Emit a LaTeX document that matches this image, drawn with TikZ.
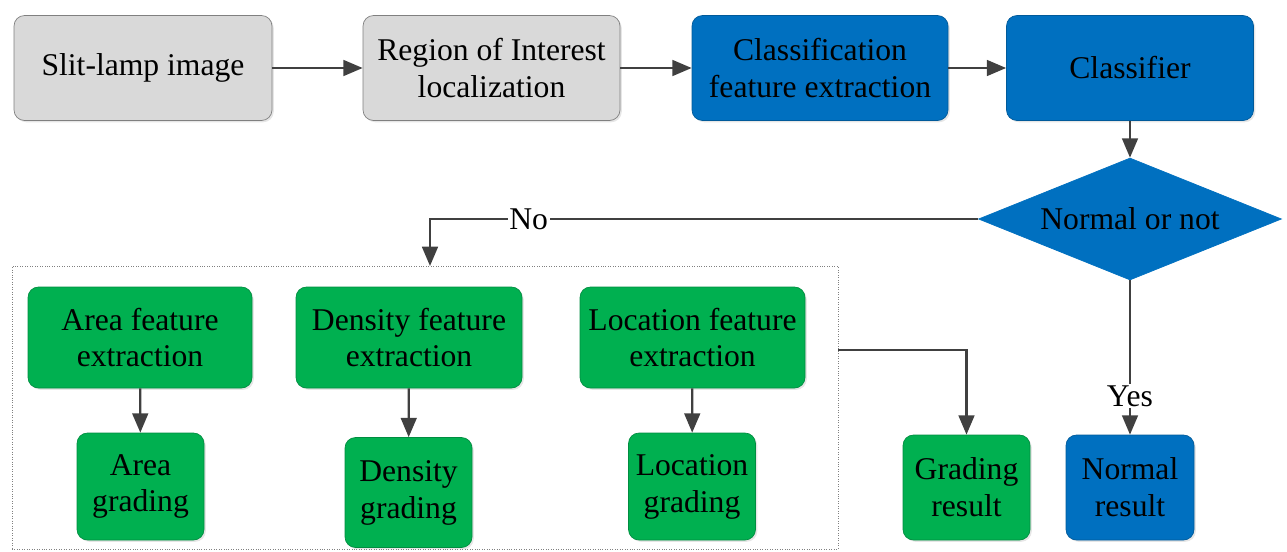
\documentclass[tikz,border=0pt]{standalone}
\usepackage{fontspec}
\setmainfont{LiberationSerif}[Extension=.ttf, UprightFont=*-Regular, BoldFont=*-Bold, ItalicFont=*-Italic]
\usepackage{tikz}
\usetikzlibrary{positioning,arrows.meta,shapes.geometric,shadows}

\definecolor{cgrey}{RGB}{217,217,217}
\definecolor{cblue}{RGB}{0,112,192}
\definecolor{cgreen}{RGB}{0,176,80}
\definecolor{cline}{RGB}{64,64,64}

\begin{document}
\begin{tikzpicture}[
    box/.style = {draw, rounded corners=6pt, align=center, minimum height=2.1cm, font=\fontsize{18}{21}\selectfont, drop shadow={opacity=0.2, shadow xshift=1pt, shadow yshift=-1pt}},
    gbox/.style = {box, fill=cgrey, draw=gray},
    bbox/.style = {box, fill=cblue, draw=cblue!80!black},
    fbox/.style = {box, fill=cgreen, draw=cgreen!80!black},
    dec/.style = {diamond, draw=cblue, fill=cblue, aspect=2.48, inner sep=0pt, minimum width=6.06cm, minimum height=2.44cm, font=\fontsize{18}{21}\selectfont},
    frame/.style = {draw=gray, densely dotted, thin},
    lbl/.style = {fill=white, inner sep=1pt, font=\fontsize{18}{21}\selectfont},
    > = {Triangle[length=11pt, width=9pt]}
]
\useasboundingbox (0,0) rectangle (25.74,-11.02);

\node (img) [gbox, minimum width=5.16cm] at (2.86,-1.36) {Slit-lamp image};
\node (roi) [gbox, minimum width=5.14cm] at (9.83,-1.36) {Region of Interest\\localization};
\node (cfe) [bbox, minimum width=5.12cm] at (16.4,-1.36) {Classification\\feature extraction};
\node (clf) [bbox, minimum width=4.94cm] at (22.6,-1.36) {Classifier};
\node (nrm) [dec] at (22.6,-4.38) {Normal or not};

\node (grp) [frame, minimum width=16.52cm, minimum height=5.66cm] at (8.5,-8.15) {};

\node (afe) [fbox, minimum width=4.48cm, minimum height=2.02cm] at (2.8,-6.75) {Area feature\\extraction};
\node (dfe) [fbox, minimum width=4.52cm, minimum height=2.02cm] at (8.18,-6.75) {Density feature\\extraction};
\node (lfe) [fbox, minimum width=4.5cm, minimum height=2.02cm] at (13.85,-6.75) {Location feature\\extraction};

\node (agr) [fbox, minimum width=2.54cm, minimum height=2.14cm] at (2.81,-9.73) {Area\\grading};
\node (dgr) [fbox, minimum width=2.54cm, minimum height=2.2cm] at (8.17,-9.85) {Density\\grading};
\node (lgr) [fbox, minimum width=2.54cm, minimum height=2.14cm] at (13.84,-9.73) {Location\\grading};

\node (gres) [fbox, minimum width=2.54cm] at (19.33,-9.75) {Grading\\result};
\node (nres) [bbox, minimum width=2.56cm] at (22.6,-9.75) {Normal\\result};

\coordinate (nx) at (8.6,-5.32);
\coordinate (gy) at (16.76,-7.0);

\begin{scope}[draw=cline, line width=1.3pt]
\draw[->] (img) to (roi);
\draw[->] (roi) to (cfe);
\draw[->] (cfe) to (clf);
\draw[->] (clf) to (nrm);
\draw[->] (nrm.west) -| node[lbl, pos=0.41] {No} (nx);
\draw[->] (nrm) to node[lbl, pos=0.75] {Yes} (nres);
\draw[->] (afe) to (agr);
\draw[->] (dfe) to (dgr);
\draw[->] (lfe) to (lgr);
\draw[->] (gy) -| (gres);
\end{scope}
\end{tikzpicture}
\end{document}
